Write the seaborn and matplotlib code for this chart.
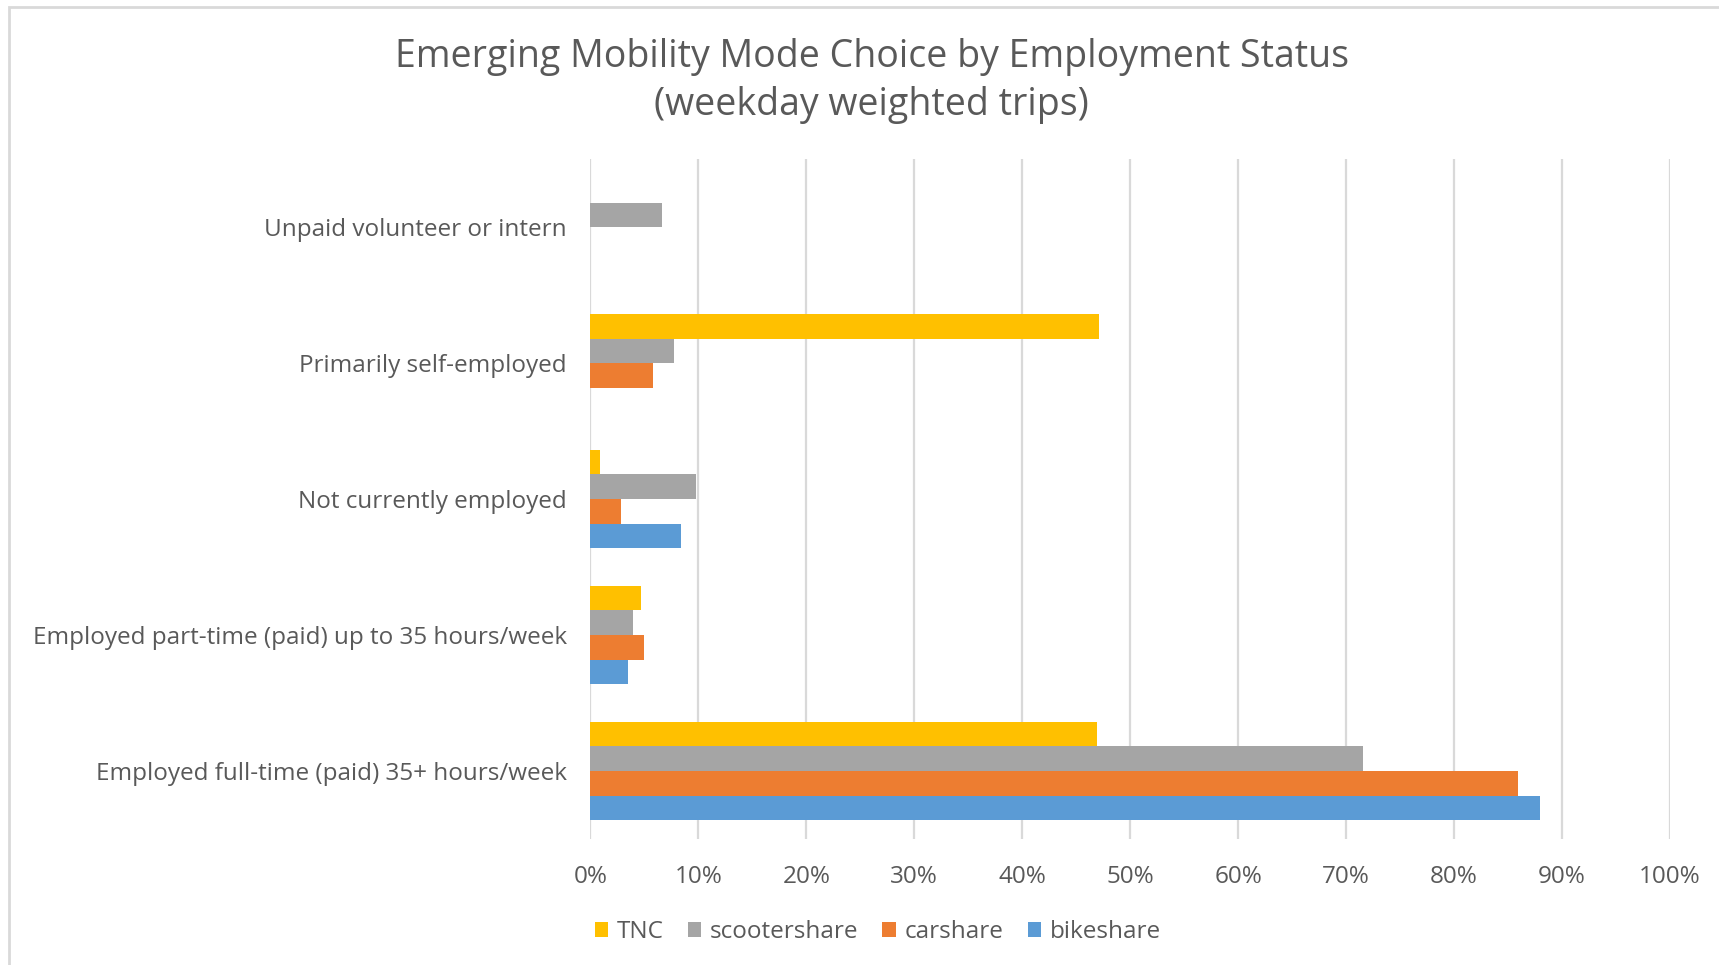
import numpy as np
import pandas as pd
import seaborn as sns
import matplotlib.pyplot as plt
import matplotlib.ticker as mticker
from matplotlib.patches import Rectangle

# categories top -> bottom
status = ["Unpaid volunteer or intern",
          "Primarily self-employed",
          "Not currently employed",
          "Employed part-time (paid) up to 35 hours/week",
          "Employed full-time (paid) 35+ hours/week"]
modes = ["TNC", "scootershare", "carshare", "bikeshare"]

# shares (%)
tnc = [0.0, 47.1, 0.9, 4.7, 46.9]
scootershare = [6.6, 7.7, 9.8, 3.9, 71.6]
carshare = [0.0, 5.8, 2.8, 5.0, 85.9]
bikeshare = [0.0, 0.0, 8.4, 3.5, 88.0]

colors = ["#FFC000", "#A5A5A5", "#ED7D31", "#5B9BD5"]

df = pd.DataFrame({"status": status, "TNC": tnc, "scootershare": scootershare,
                   "carshare": carshare, "bikeshare": bikeshare})
df = df.melt(id_vars="status", var_name="mode", value_name="share")
df["share"] = df["share"] / 100

sns.set_style("white")
plt.rcParams['font.family'] = ['Open Sans', 'DejaVu Sans']
txt = "#595959"

fig = plt.figure(figsize=(17.19, 9.65), dpi=100)
ax = fig.add_axes([0.3435, 0.1306, 0.9715 - 0.3435, 0.835 - 0.1306])

sns.barplot(data=df, y="status", x="share", hue="mode", order=status,
            hue_order=modes, palette=colors, orient="h", width=0.725,
            linewidth=0, saturation=1, ax=ax, zorder=3)

ax.set_xlim(0, 1)
ax.xaxis.set_major_locator(mticker.MultipleLocator(0.1))
ax.xaxis.set_major_formatter(mticker.PercentFormatter(1.0, decimals=0))
ax.grid(axis="x", color="#D9D9D9", linewidth=1.6, zorder=0)
ax.set_axisbelow(True)
for s in ax.spines.values():
    s.set_visible(False)
ax.tick_params(length=0, colors=txt, labelsize=17.5)
ax.tick_params(axis="x", pad=19)
ax.tick_params(axis="y", pad=17)
ax.set_xlabel("")
ax.set_ylabel("")

fig.text(0.507, 0.941, "Emerging Mobility Mode Choice by Employment Status",
         ha="center", va="center", fontsize=27, color=txt)
fig.text(0.507, 0.891, "(weekday weighted trips)",
         ha="center", va="center", fontsize=27, color=txt)

leg = ax.legend(loc="center", bbox_to_anchor=(0.5105, 0.034),
                bbox_transform=fig.transFigure, ncol=4, frameon=False,
                fontsize=17.5, handlelength=0.55, handleheight=0.55,
                handletextpad=0.35, columnspacing=1.0)
for t in leg.get_texts():
    t.set_color(txt)

fig.patches.append(Rectangle((0.0055, -0.05), 1.2, 1.043,
                             transform=fig.transFigure, fill=False,
                             edgecolor="#D9D9D9", linewidth=2))

fig.savefig("out.png", dpi=100)
